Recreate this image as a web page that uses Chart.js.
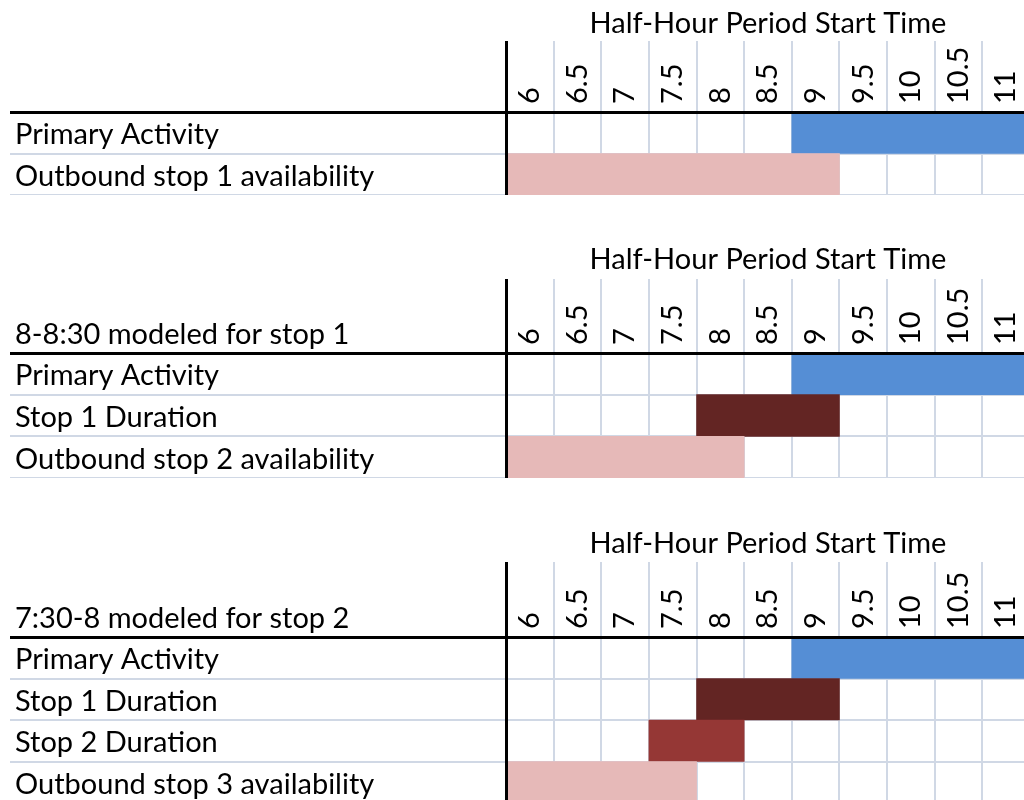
<!DOCTYPE html>
<html>
<head>
<meta charset="utf-8">
<script src="https://cdn.jsdelivr.net/npm/chart.js@4.4.1/dist/chart.umd.min.js"></script>
<style>
  html, body { margin: 0; padding: 0; background: #fff; overflow: hidden; width: 1024px; height: 800px; }
  canvas { position: absolute; left: 0; }
</style>
</head>
<body>
<canvas id="panel1" width="1030" height="195" style="top:0px"></canvas>
<canvas id="panel2" width="1030" height="242" style="top:236px"></canvas>
<canvas id="panel3" width="1030" height="283" style="top:520px"></canvas>
<script>
// axis
const xTitle = 'Half-Hour Period Start Time';
const halfHours = [6, 6.5, 7, 7.5, 8, 8.5, 9, 9.5, 10, 10.5, 11];
const dayEnd = 11.5;

// panel 1
const panel1Rows = ['Primary Activity', 'Outbound stop 1 availability'];
const panel1Start = [9, 6];
const panel1End = [11.5, 9.5];

// panel 2
const panel2Note = '8-8:30 modeled for stop 1';
const panel2Rows = ['Primary Activity', 'Stop 1 Duration', 'Outbound stop 2 availability'];
const panel2Start = [9, 8, 6];
const panel2End = [11.5, 9.5, 8.5];

// panel 3
const panel3Note = '7:30-8 modeled for stop 2';
const panel3Rows = ['Primary Activity', 'Stop 1 Duration', 'Stop 2 Duration', 'Outbound stop 3 availability'];
const panel3Start = [9, 8, 7.5, 6];
const panel3End = [11.5, 9.5, 8.5, 8];

// colours
const BLUE = '#558ED5';
const DARK = '#632523';
const RUST = '#953735';
const PINK = '#E6B9B8';
const GRID = '#D0D8E5';

const FONT_SIZE = 29;

function rowColor(label) {
  if (label.startsWith('Primary')) return BLUE;
  if (label.startsWith('Stop 1')) return DARK;
  if (label.startsWith('Stop 2')) return RUST;
  return PINK;
}

Chart.defaults.font.family = 'Lato';
Chart.defaults.font.size = FONT_SIZE;
Chart.defaults.color = '#000';

// text sitting in the header, left of the time columns
const noteLabel = {
  id: 'noteLabel',
  afterDraw(chart, args, opts) {
    if (!opts.text) return;
    const ctx = chart.ctx;
    ctx.save();
    ctx.font = FONT_SIZE + 'px Lato';
    ctx.fillStyle = '#000';
    ctx.textAlign = 'left';
    ctx.textBaseline = 'alphabetic';
    ctx.fillText(opts.text, chart.scales.y.left, chart.scales.x.bottom - 9);
    ctx.restore();
  }
};

function drawPanel(id, rows, starts, ends, note, header, tickLen) {
  const n = rows.length;
  // rotated labels on a top axis sit one line height left of the tick, so push them
  // back by that plus half a column to centre them in each half-hour cell
  const colOffset = 23.75 + FONT_SIZE * 1.2;
  return new Chart(document.getElementById(id), {
    type: 'bar',
    data: {
      labels: rows,
      datasets: [{
        data: starts.map((s, i) => [s, ends[i]]),
        backgroundColor: rows.map(rowColor),
        borderWidth: 0,
        barPercentage: 1,
        categoryPercentage: 1
      }]
    },
    plugins: [noteLabel],
    options: {
      indexAxis: 'y',
      responsive: false,
      animation: false,
      layout: { padding: { left: 15, right: 0, top: 0, bottom: 0 } },
      plugins: {
        legend: { display: false },
        tooltip: { enabled: false },
        noteLabel: { text: note }
      },
      scales: {
        x: {
          type: 'linear',
          position: 'top',
          min: halfHours[0],
          max: dayEnd,
          afterBuildTicks: s => { s.ticks = halfHours.map(v => ({ value: v })); },
          afterFit: s => { s.height = header; },
          ticks: {
            autoSkip: false, minRotation: 90, maxRotation: 90,
            padding: 8 - tickLen, labelOffset: colOffset,
            callback: v => String(v)
          },
          grid: {
            color: c => c.index === 0 ? '#000' : GRID,
            lineWidth: c => c.index === 0 ? 3 : 2,
            tickLength: tickLen
          },
          border: { color: '#000', width: 3, z: 1 },
          title: { display: true, text: xTitle, color: '#000', padding: { top: 6, bottom: 0 } }
        },
        y: {
          type: 'category',
          afterFit: s => { s.width = 491; s.paddingTop = 0; s.paddingBottom = 0; },
          ticks: { autoSkip: false, crossAlign: 'far', labelOffset: 2 },
          grid: {
            offset: true,
            color: c => c.index === 0 ? '#000' : (c.index >= n ? 'rgba(0,0,0,0)' : GRID),
            lineWidth: c => c.index === 0 ? 3 : 2,
            tickLength: 496
          },
          border: { color: '#000', width: 3, z: 1 }
        }
      }
    }
  });
}

drawPanel('panel1', panel1Rows, panel1Start, panel1End, '', 112, 71);
drawPanel('panel2', panel2Rows, panel2Start, panel2End, panel2Note, 117, 74);
drawPanel('panel3', panel3Rows, panel3Start, panel3End, panel3Note, 117, 75);
</script>
</body>
</html>
